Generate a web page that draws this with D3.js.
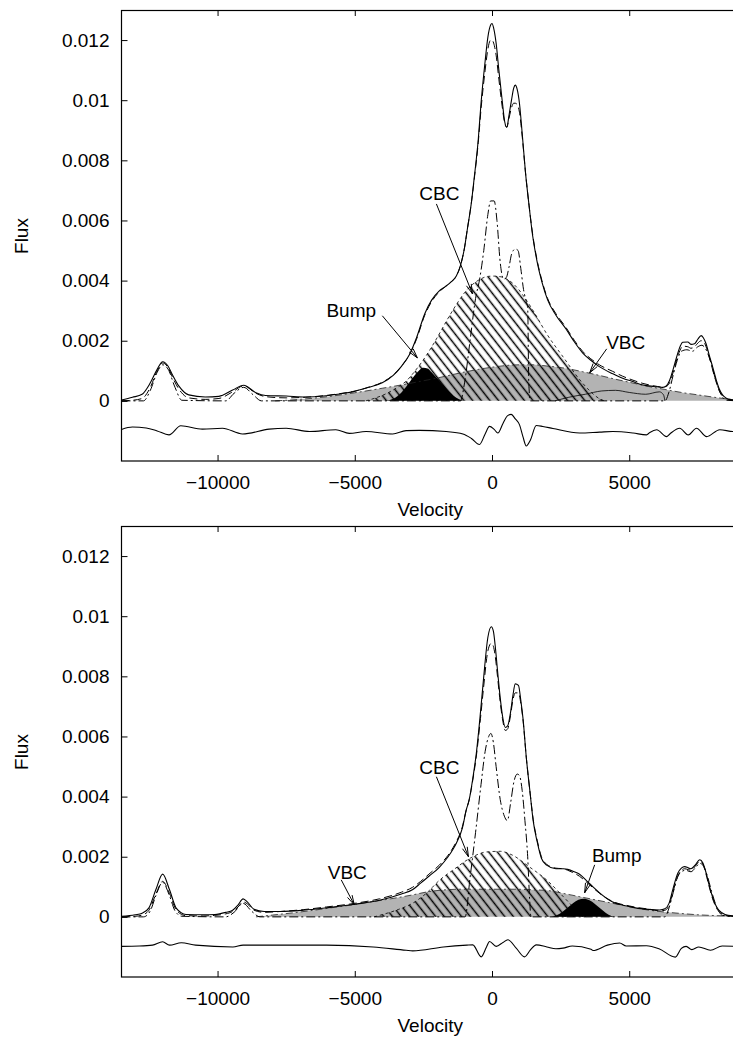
<!DOCTYPE html>
<html><head><meta charset="utf-8">
<script src="https://cdn.jsdelivr.net/npm/d3@7"></script>
<style>
body{margin:0;background:#fff}
svg{display:block}
text{font-family:"Liberation Sans",Arial,Helvetica,sans-serif;fill:#000}
</style>
</head><body>
<svg id="c" width="733" height="1038"></svg>
<script>
// ---------------- DATA (flux values in units of 1e-3) ----------------
const xTicks = [-10000, -5000, 0, 5000];
const yTicks = [0, 0.002, 0.004, 0.006, 0.008, 0.01, 0.012];
const xLabel = "Velocity";
const yLabel = "Flux";

// ---- top panel ----
const obsTopV = [-13500,-13100,-12750,-12450,-12200,-12000,-11800,-11650,-11400,-11050,-10450,-9950,-9450,-9050,-8600,-8250,-7500,-6800,-6050,-5550,-5080,-4500,-4000,-3600,-3300,-3000,-2750,-2450,-2200,-1930,-1700,-1500,-1300,-1150,-1000,-900,-750,-650,-500,-400,-250,-150,-50,0,60,150,250,370,460,540,620,710,790,850,920,1000,1100,1220,1350,1480,1650,1820,2030,2330,2690,3010,3300,3600,3910,4400,4760,5100,5500,5900,6220,6350,6470,6600,6710,6850,6950,7135,7250,7380,7500,7620,7700,7800,7920,8050,8170,8290,8400,8520,8650,8800,9000];
const obsTopF = [0.03,0.12,0.22,0.6,1.05,1.3,1.15,0.88,0.48,0.2,0.13,0.15,0.36,0.52,0.27,0.18,0.16,0.13,0.17,0.23,0.3,0.45,0.6,0.85,1.15,1.55,2.1,2.9,3.35,3.65,3.8,3.95,4.15,4.5,5.1,5.7,6.6,7.4,8.7,9.9,11.3,12.1,12.5,12.55,12.4,11.9,11.0,10.0,9.3,9.1,9.5,10.0,10.4,10.5,10.35,9.9,8.9,7.6,6.5,5.5,4.6,3.95,3.35,2.85,2.4,1.95,1.6,1.35,1.14,0.9,0.75,0.65,0.53,0.48,0.45,0.5,0.68,1.05,1.4,1.8,1.95,1.96,1.88,1.9,2.05,2.17,2.1,1.9,1.5,1.1,0.7,0.38,0.2,0.1,0.05,0.03,0.02];
const fitTopF = [0.0,0.02,0.08,0.45,1.0,1.26,1.1,0.8,0.38,0.1,0.05,0.08,0.3,0.5,0.25,0.14,0.1,0.12,0.18,0.24,0.31,0.45,0.62,0.86,1.15,1.55,2.05,2.85,3.3,3.62,3.8,3.95,4.15,4.5,5.1,5.7,6.6,7.35,8.6,9.7,11.0,11.7,12.0,12.0,11.9,11.5,10.7,9.8,9.25,9.1,9.4,9.75,9.9,9.9,9.85,9.6,8.8,7.6,6.5,5.55,4.65,4.0,3.4,2.9,2.45,2.0,1.65,1.4,1.2,0.98,0.82,0.7,0.58,0.5,0.46,0.48,0.6,0.95,1.3,1.68,1.82,1.8,1.75,1.8,1.92,2.0,1.98,1.8,1.45,1.0,0.62,0.32,0.16,0.08,0.04,0.02,0.01];
const narrowTopV = [-13500,-12700,-12450,-12200,-12000,-11800,-11550,-11300,-9700,-9400,-9050,-8700,-8400,-1150,-1000,-800,-600,-450,-300,-150,-50,80,180,300,420,520,620,720,850,950,1050,1150,1250,1300,1340,1400,6300,6450,6600,6750,6900,7100,7300,7500,7650,7800,7950,8150,8350,8550,9000];
const narrowTopF = [0,0,0.35,0.95,1.2,1.05,0.45,0.02,0,0.25,0.45,0.2,0,0,0.6,2.0,3.4,4.05,5.0,6.2,6.65,6.65,6.0,4.6,4.05,4.1,4.45,4.9,5.05,5.0,4.4,3.7,3.3,3.1,0.6,0,0,0.3,0.85,1.35,1.65,1.7,1.65,1.8,1.85,1.7,1.35,0.7,0.2,0.02,0];
const vbcTopV = [-7900,-7000,-6000,-5000,-4000,-3000,-2000,-1000,0,1000,1500,2000,2700,3300,3900,4500,5100,5700,6300,6900,7500,8100,8700,9000];
const vbcTopF = [0,0.05,0.14,0.27,0.42,0.58,0.76,0.96,1.12,1.2,1.2,1.16,1.08,0.97,0.85,0.72,0.6,0.48,0.38,0.28,0.2,0.12,0.05,0.03];
const cbcTopV = [-4600,-4300,-3900,-3500,-3100,-2800,-2400,-2000,-1600,-1300,-1000,-700,-400,-150,100,350,600,900,1200,1500,2000,2600,3200,3600,3900,4100];
const cbcTopF = [0,0.08,0.22,0.42,0.68,1.0,1.5,2.1,2.75,3.2,3.6,3.88,4.06,4.14,4.15,4.12,4.02,3.78,3.42,3.0,2.22,1.45,0.7,0.3,0.08,0];
const bumpTopV = [-3900,-3600,-3300,-3100,-2900,-2700,-2500,-2350,-2200,-2000,-1800,-1600,-1400,-1200,-1050];
const bumpTopF = [0,0.07,0.28,0.5,0.75,0.97,1.1,1.08,0.95,0.75,0.55,0.35,0.17,0.05,0];
const extraTopV = [2300,2800,3400,4000,4500,5000,5600,6100,6250,6300];
const extraTopF = [0,0.12,0.22,0.33,0.35,0.28,0.22,0.3,0.2,0];
const resTopV = [-13500,-13100,-12600,-12200,-11770,-11340,-10550,-9820,-9090,-8120,-7500,-6650,-5690,-5200,-4590,-3620,-3130,-2650,-1670,-1060,-750,-456,-250,-91,80,212,400,560,700,850,1004,1130,1248,1400,1613,1850,2220,3190,3920,4400,5140,5630,5750,6000,6360,6480,6840,7150,7450,7820,8300,8790,9000];
const resTopF = [-0.95,-0.87,-0.9,-1.0,-1.13,-0.83,-0.94,-0.91,-1.1,-0.94,-0.91,-1.02,-0.96,-1.08,-1.02,-1.1,-0.99,-0.98,-1.02,-1.1,-1.25,-1.45,-1.1,-0.85,-0.95,-1.07,-0.75,-0.5,-0.45,-0.6,-0.8,-1.2,-1.5,-1.3,-0.82,-0.85,-0.92,-1.07,-1.04,-1.02,-1.07,-1.13,-1.05,-0.96,-1.19,-1.1,-0.91,-1.13,-0.91,-1.19,-0.96,-1.02,-1.0];

// ---- bottom panel ----
const obsBotV = [-13500,-13000,-12750,-12500,-12250,-12000,-11750,-11500,-11150,-10500,-10100,-9700,-9450,-9250,-9070,-8900,-8670,-8300,-7700,-6880,-6030,-5000,-4100,-3300,-2900,-2600,-2300,-1920,-1600,-1420,-1300,-1080,-940,-830,-700,-570,-420,-310,-150,-25,50,113,200,280,380,485,570,675,760,847,964,1050,1135,1250,1391,1500,1646,1800,1990,2330,2600,2760,3000,3190,3450,3700,3920,4380,5020,5230,5700,6110,6300,6450,6600,6770,6900,7020,7150,7250,7400,7570,7680,7790,7900,8040,8200,8390,8600,9000];
const obsBotF = [0.02,0.07,0.12,0.3,0.9,1.42,0.9,0.28,0.08,0.07,0.08,0.15,0.22,0.4,0.6,0.48,0.25,0.18,0.18,0.22,0.3,0.42,0.55,0.76,0.9,1.12,1.35,1.65,2.0,2.25,2.45,2.95,3.55,3.9,4.6,5.45,6.8,7.9,9.3,9.65,9.5,9.05,8.2,7.45,6.7,6.3,6.35,6.8,7.35,7.75,7.7,7.2,6.55,5.3,4.1,3.2,2.5,1.95,1.72,1.6,1.6,1.58,1.5,1.42,1.2,0.98,0.8,0.5,0.34,0.3,0.25,0.23,0.27,0.45,0.95,1.45,1.62,1.67,1.63,1.6,1.72,1.9,1.8,1.5,1.1,0.65,0.3,0.13,0.05,0.02];
const fitBotF = [0,0.02,0.06,0.22,0.75,1.18,0.78,0.22,0.04,0.03,0.05,0.1,0.18,0.33,0.5,0.42,0.22,0.15,0.18,0.24,0.33,0.45,0.6,0.82,0.98,1.18,1.42,1.72,2.05,2.3,2.5,3.0,3.55,3.9,4.55,5.35,6.6,7.6,8.85,9.1,9.0,8.7,8.0,7.3,6.6,6.2,6.25,6.7,7.2,7.45,7.45,7.1,6.5,5.3,4.1,3.25,2.55,2.0,1.75,1.62,1.6,1.55,1.45,1.35,1.15,0.95,0.78,0.52,0.36,0.32,0.26,0.2,0.22,0.38,0.85,1.35,1.55,1.6,1.57,1.55,1.68,1.85,1.76,1.45,1.05,0.6,0.26,0.1,0.03,0.01];
const narrowBotV = [-13500,-12700,-12450,-12250,-12000,-11750,-11550,-11300,-9700,-9400,-9070,-8750,-8450,-980,-800,-600,-400,-250,-120,-40,50,150,300,450,560,680,800,920,1000,1100,1200,1300,1370,1420,6300,6450,6600,6750,6900,7050,7250,7400,7570,7700,7850,8000,8200,8400,9000];
const narrowBotF = [0,0,0.2,0.7,1.15,0.7,0.2,0.02,0,0.15,0.45,0.18,0,0,1.3,2.8,4.4,5.5,6.0,6.1,5.8,5.0,3.9,3.35,3.2,3.8,4.5,4.75,4.7,4.2,3.2,2.0,0.6,0,0,0.3,0.8,1.3,1.5,1.55,1.5,1.62,1.78,1.7,1.35,0.85,0.3,0.05,0];
const vbcBotV = [-8600,-8000,-7200,-6500,-5800,-5080,-4400,-3700,-2900,-2300,-1700,-1100,0,800,1500,2000,2600,3200,3800,4400,5000,5600,6200,6800,7500,8200,9000];
const vbcBotF = [0,0.06,0.14,0.22,0.31,0.4,0.5,0.6,0.73,0.84,0.9,0.92,0.92,0.92,0.9,0.88,0.78,0.67,0.56,0.45,0.34,0.24,0.17,0.12,0.07,0.04,0.02];
const cbcBotV = [-4300,-3900,-3400,-2900,-2400,-1900,-1400,-800,-200,300,750,1350,2000,2600,2950,3200,3450];
const cbcBotF = [0,0.1,0.25,0.45,0.78,1.23,1.57,1.95,2.16,2.18,2.05,1.67,1.22,0.67,0.34,0.12,0];
const bumpBotV = [2150,2350,2550,2750,2950,3150,3350,3550,3750,3950,4150,4350,4500];
const bumpBotF = [0,0.05,0.15,0.3,0.45,0.57,0.6,0.55,0.43,0.28,0.13,0.03,0];
const resBotV = [-13500,-12850,-12370,-12000,-11750,-11320,-10800,-9440,-9070,-7740,-6030,-4330,-3130,-2890,-1770,-915,-700,-394,-200,-91,153,400,577,882,1186,1400,1613,2000,2330,2586,2927,3608,3680,4206,4653,4888,5627,6084,6680,6900,7075,7280,7534,7960,8388,9000];
const resBotF = [-0.98,-0.97,-0.94,-0.83,-0.94,-0.86,-0.94,-1.0,-0.94,-0.94,-0.94,-1.0,-1.11,-1.13,-1.0,-0.94,-0.93,-1.33,-1.0,-0.82,-0.98,-0.85,-0.76,-1.04,-1.33,-1.1,-0.93,-1.0,-1.06,-1.04,-0.97,-1.08,-1.12,-0.94,-0.87,-0.97,-0.96,-1.06,-1.34,-1.05,-0.98,-1.09,-1.0,-1.11,-0.97,-0.98];

// annotations (data coordinates: velocity, flux*1e3)
const annTop = [
  {text:"CBC",  lv:-1916, lf:6.92, fv:-2026, ff:6.55, tv:-712,  tf:3.56},
  {text:"Bump", lv:-5128, lf:3.03, fv:-3996, ff:2.83, tv:-2719, tf:1.43},
  {text:"VBC",  lv:4872,  lf:1.96, fv:4179,  ff:1.73, tv:3558,  tf:0.93}
];
const annBot = [
  {text:"CBC",  lv:-1916, lf:4.99, fv:-2026, ff:4.66, tv:-858,  tf:2.0},
  {text:"VBC",  lv:-5274, lf:1.5,  fv:-5493, ff:1.23, tv:-5018, tf:0.4},
  {text:"Bump", lv:4544,  lf:2.06, fv:3741,  ff:1.73, tv:3376,  tf:0.8}
];

// ---------------- DRAWING ----------------
const FS = 19;
const svg = d3.select("#c");
const defs = svg.append("defs");
const hatch = defs.append("pattern").attr("id","hatch")
  .attr("patternUnits","userSpaceOnUse").attr("width",14).attr("height",6.8)
  .attr("patternTransform","rotate(52)");
hatch.append("line").attr("x1",-1).attr("x2",15).attr("y1",3.4).attr("y2",3.4)
  .attr("stroke","#000").attr("stroke-width",1.5);

const x = d3.scaleLinear().domain([-13500, 9000]).range([121.5, 739]);

const panels = [
  {oy:0, obsV:obsTopV, obsF:obsTopF, fitF:fitTopF, nV:narrowTopV, nF:narrowTopF,
   vV:vbcTopV, vF:vbcTopF, cV:cbcTopV, cF:cbcTopF, bV:bumpTopV, bF:bumpTopF,
   eV:extraTopV, eF:extraTopF, rV:resTopV, rF:resTopF, ann:annTop},
  {oy:516, obsV:obsBotV, obsF:obsBotF, fitF:fitBotF, nV:narrowBotV, nF:narrowBotF,
   vV:vbcBotV, vF:vbcBotF, cV:cbcBotV, cF:cbcBotF, bV:bumpBotV, bF:bumpBotF,
   eV:null, eF:null, rV:resBotV, rF:resBotF, ann:annBot}
];

const pts = (V,F) => V.map((v,i)=>[v, F[i]*1e-3]);

panels.forEach((p, pi) => {
  const top = p.oy + 10, bot = p.oy + 461;
  const y = d3.scaleLinear().domain([-0.002, 0.013]).range([bot, top]);
  const line = d3.line().x(d=>x(d[0])).y(d=>y(d[1])).curve(d3.curveMonotoneX);
  const area = d3.area().x(d=>x(d[0])).y0(y(0)).y1(d=>y(d[1])).curve(d3.curveMonotoneX);

  const cid = "clip"+pi;
  defs.append("clipPath").attr("id",cid).append("rect")
    .attr("x",x.range()[0]).attr("y",top).attr("width",x.range()[1]-x.range()[0]).attr("height",bot-top);
  const g = svg.append("g").attr("clip-path",`url(#${cid})`);

  // components
  g.append("path").attr("d",area(pts(p.vV,p.vF))).attr("fill","#b3b3b3");
  g.append("path").attr("d",area(pts(p.cV,p.cF))).attr("fill","url(#hatch)");
  g.append("path").attr("d",area(pts(p.bV,p.bF))).attr("fill","#000");
  g.append("path").attr("d",line(pts(p.vV,p.vF))).attr("fill","none")
    .attr("stroke","#222").attr("stroke-width",0.8).attr("stroke-dasharray","7,3,2,3");
  g.append("path").attr("d",line(pts(p.cV,p.cF))).attr("fill","none")
    .attr("stroke","#000").attr("stroke-width",0.8).attr("stroke-dasharray","3,3");
  if (p.eV) g.append("path").attr("d",line(pts(p.eV,p.eF))).attr("fill","none")
    .attr("stroke","#000").attr("stroke-width",0.8);

  // narrow components (dash-dot), fit (dashed), observed (solid), residuals
  g.append("path").attr("d",line(pts(p.nV,p.nF))).attr("fill","none")
    .attr("stroke","#000").attr("stroke-width",1).attr("stroke-dasharray","9,3,2,3");
  g.append("path").attr("d",line(pts(p.obsV,p.fitF))).attr("fill","none")
    .attr("stroke","#000").attr("stroke-width",1).attr("stroke-dasharray","8,4");
  g.append("path").attr("d",line(pts(p.obsV,p.obsF))).attr("fill","none")
    .attr("stroke","#000").attr("stroke-width",1.1);
  g.append("path").attr("d",line(pts(p.rV,p.rF))).attr("fill","none")
    .attr("stroke","#000").attr("stroke-width",1.1);

  // frame
  svg.append("rect").attr("x",x.range()[0]).attr("y",top+0.5)
    .attr("width",x.range()[1]-x.range()[0]).attr("height",bot-top-0.5)
    .attr("fill","none").attr("stroke","#000").attr("stroke-width",1.2);

  // axes
  const fmtY = d => String(d);
  svg.append("g").attr("transform",`translate(0,${bot})`)
    .call(d3.axisBottom(x).tickValues(xTicks).tickSizeInner(-6).tickSizeOuter(0).tickPadding(15).tickFormat(d3.format("d")));
  svg.append("g").attr("transform",`translate(0,${top})`)
    .call(d3.axisTop(x).tickValues(xTicks).tickSizeInner(-6).tickSizeOuter(0).tickFormat(""));
  svg.append("g").attr("transform",`translate(${x.range()[0]},0)`)
    .call(d3.axisLeft(y).tickValues(yTicks).tickSizeInner(-6).tickSizeOuter(0).tickPadding(12).tickFormat(fmtY));
  svg.append("g").attr("transform",`translate(${x.range()[1]},0)`)
    .call(d3.axisRight(y).tickValues(yTicks).tickSizeInner(-6).tickSizeOuter(0).tickFormat(""));
  svg.selectAll(".domain").remove();
  svg.selectAll(".tick line").attr("stroke","#000").attr("stroke-width",1);
  svg.selectAll(".tick text").attr("font-size",FS).attr("font-family","Liberation Sans, Arial, sans-serif").attr("fill","#000");

  // axis titles
  svg.append("text").attr("x",(x.range()[0]+x.range()[1])/2).attr("y",p.oy+516)
    .attr("text-anchor","middle").attr("font-size",FS).text(xLabel);
  svg.append("text").attr("transform",`translate(21,${p.oy+236}) rotate(-90)`)
    .attr("text-anchor","middle").attr("dy","0.36em").attr("font-size",FS).text(yLabel);

  // annotations
  p.ann.forEach(a => {
    svg.append("text").attr("x",x(a.lv)).attr("y",y(a.lf*1e-3)).attr("dy","0.36em")
      .attr("text-anchor","middle").attr("font-size",FS).text(a.text);
    const x1=x(a.fv), y1=y(a.ff*1e-3), x2=x(a.tv), y2=y(a.tf*1e-3);
    const ang = Math.atan2(y2-y1, x2-x1), L=10, h=0.26;
    const hx1 = x2 - L*Math.cos(ang-h), hy1 = y2 - L*Math.sin(ang-h);
    const hx2 = x2 - L*Math.cos(ang+h), hy2 = y2 - L*Math.sin(ang+h);
    svg.append("path").attr("d",`M${x1},${y1}L${x2},${y2}M${hx1},${hy1}L${x2},${y2}L${hx2},${hy2}`)
      .attr("fill","none").attr("stroke","#000").attr("stroke-width",1);
  });
});
</script>
</body></html>
